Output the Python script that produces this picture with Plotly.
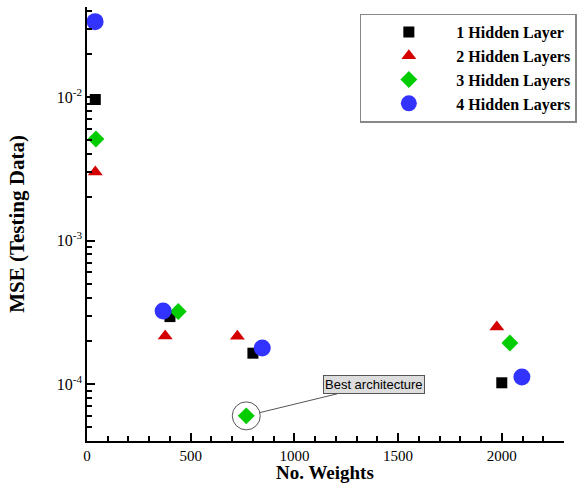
import numpy as np
import plotly.graph_objects as go

# Data
names = ["1 Hidden Layer", "2 Hidden Layers", "3 Hidden Layers", "4 Hidden Layers"]
w1 = [40, 400, 800, 2000]
mse1 = [9.6e-3, 2.95e-4, 1.64e-4, 1.02e-4]
w2 = [40, 377, 725, 1976]
mse2 = [3.0e-3, 2.16e-4, 2.15e-4, 2.5e-4]
w3 = [43, 440, 768, 2039]
mse3 = [5.1e-3, 3.2e-4, 6.0e-5, 1.93e-4]
w4 = [39, 367, 845, 2097]
mse4 = [3.35e-2, 3.23e-4, 1.78e-4, 1.12e-4]
best_w, best_mse = 768, 6.0e-5

symbols = ["square", "triangle-up", "diamond", "circle"]
colors = ["#000000", "#d40000", "#00cc00", "#3333ff"]
sizes = [11, 13, 13, 17]

fig = go.Figure()
for n, xs, ys, s, c, sz in zip(names, [w1, w2, w3, w4], [mse1, mse2, mse3, mse4], symbols, colors, sizes):
    fig.add_trace(go.Scatter(x=xs, y=ys, mode="markers", name=n,
                             marker=dict(symbol=s, color=c, size=sz, line=dict(width=0))))

# circle highlighting the best architecture
fig.add_trace(go.Scatter(x=[best_w], y=[best_mse], mode="markers", showlegend=False,
                         marker=dict(symbol="circle-open", size=28, color="#555555",
                                     line=dict(width=1, color="#555555")),
                         hoverinfo="skip"))

serif = "Liberation Serif, Times New Roman, serif"

fig.add_annotation(x=best_w, y=np.log10(best_mse), xref="x", yref="y",
                   text="Best architecture", showarrow=True, arrowhead=0,
                   arrowwidth=1, arrowcolor="#555555", ax=128, ay=-31, standoff=14,
                   bgcolor="#dddddd", bordercolor="#555555", borderwidth=1, borderpad=1,
                   font=dict(family="Liberation Sans, Arial, sans-serif", size=13, color="#000"))

# x-axis title placed as a paper annotation so it sits below the tick labels
fig.add_annotation(x=0.499, y=0, xref="paper", yref="paper", text="No. Weights",
                   showarrow=False, xanchor="center", yanchor="middle", yshift=-31,
                   font=dict(family=serif, size=19, color="black", weight="bold"))

fig.update_layout(
    width=581, height=483,
    margin=dict(l=87, r=17, t=7, b=42, autoexpand=False),
    plot_bgcolor="white", paper_bgcolor="white",
    font=dict(family=serif, size=16, color="black"),
    legend=dict(x=0.572, y=0.985, xanchor="left", yanchor="top",
                bordercolor="#888888", borderwidth=1.5, bgcolor="white",
                font=dict(family=serif, size=16, color="black", weight="bold"),
                itemwidth=85, tracegroupgap=0),
    showlegend=True,
)

fig.update_xaxes(range=[0, 2300], showgrid=False, zeroline=False,
                 showline=True, linecolor="black", linewidth=1.5,
                 ticks="inside", ticklen=8, tickwidth=1.5, tickcolor="black",
                 dtick=500, tick0=0, tickfont=dict(family=serif, size=15, color="black"),
                 minor=dict(ticks="inside", ticklen=5, tickcolor="black", dtick=100, showgrid=False))

fig.update_yaxes(type="log", range=[-4.397, -1.373], showgrid=False, zeroline=False,
                 showline=True, linecolor="black", linewidth=1.5,
                 ticks="inside", ticklen=8, tickwidth=1.5, tickcolor="black",
                 tickvals=[1e-4, 1e-3, 1e-2],
                 ticktext=["10<sup>-4</sup>", "10<sup>-3</sup>", "10<sup>-2</sup>"],
                 tickfont=dict(family=serif, size=16, color="black"),
                 minor=dict(ticks="inside", ticklen=5, tickcolor="black", dtick="D1", showgrid=False),
                 title=dict(text="MSE (Testing Data)", font=dict(family=serif, size=21, weight="bold"), standoff=26))

fig.write_html("out.html")
